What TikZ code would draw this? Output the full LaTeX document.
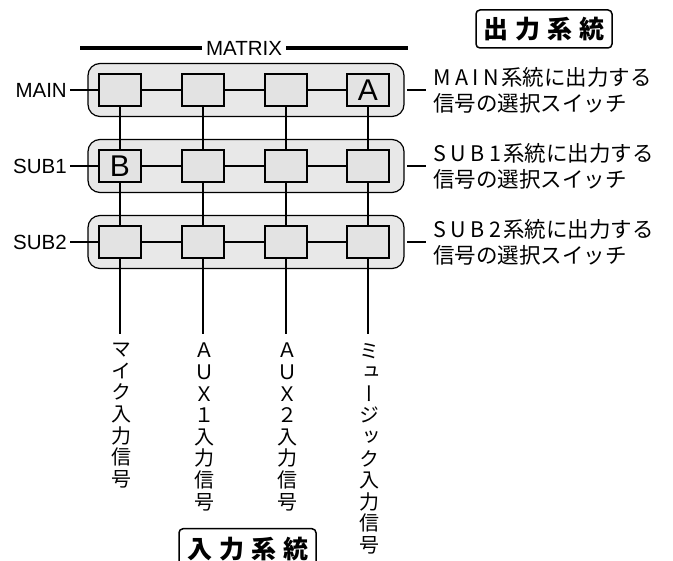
\documentclass[tikz,border=0pt]{standalone}
\usepackage{fontspec}
\setmainfont{Liberation Sans}
\newfontfamily\jp{Noto Sans CJK JP}
\newfontfamily\vjp[RawFeature=+vert]{Noto Sans CJK JP}
\newcommand\ls[1]{#1\kern4.5pt}
\begin{document}
\begin{tikzpicture}[x=1pt,y=-1pt,
  grp/.style={draw=black,line width=1.2pt,fill=gray!18,rounded corners=12pt},
  sw/.style={draw=black,line width=2.8pt,fill=gray!22,minimum width=42pt,minimum height=32pt,inner sep=0pt},
  letter/.style={font=\fontsize{30}{30}\selectfont,inner sep=0pt},
  wire/.style={line width=2pt},
  lbl/.style={font=\fontsize{20.5}{20.5}\selectfont,inner sep=0pt},
  rlbl/.style={font=\jp\fontsize{21.5}{26}\selectfont,align=left,anchor=west,inner sep=0pt},
  vlbl/.style={font=\vjp\fontsize{20}{21.6}\selectfont,align=center,anchor=north,inner sep=0pt},
  titlebox/.style={draw=black,line width=1.5pt,rounded corners=4pt,font=\jp\bfseries\fontsize{25}{25}\selectfont,inner sep=0pt}
]
\useasboundingbox (0,0) rectangle (673,561);
% MATRIX header
\node[lbl] (mx) at (244,48) {MATRIX};
\coordinate (mxl) at (80,48);
\coordinate (mxr) at (408,48);
\draw[line width=4.5pt] (mxl) -- ([xshift=-4pt]mx.west);
\draw[line width=4.5pt] ([xshift=4pt]mx.east) -- (mxr);
% rows
\foreach \r/\y in {1/90,2/166,3/242}{
  \node[grp,minimum width=316pt,minimum height=53pt] (g\r) at (246,\y) {};
}
% vertical wires
\foreach \c/\x in {1/120,2/203,3/286,4/368}{
  \coordinate (top\c) at (\x,90);
  \coordinate (bot\c) at (\x,334);
  \draw[wire] (top\c) -- (bot\c);
}
% labels on the left
\node[lbl,anchor=east] (l1) at (67,90) {MAIN};
\node[lbl,anchor=east] (l2) at (67,166) {SUB1};
\node[lbl,anchor=east] (l3) at (67,242) {SUB2};
% horizontal wires
\foreach \r/\y in {1/90,2/166,3/242}{
  \coordinate (e\r) at (368,\y);
  \draw[wire] ([xshift=3pt]l\r.east) -- (e\r);
  \coordinate (ra\r) at (407,\y);
  \coordinate (rb\r) at (426,\y);
  \draw[wire] (ra\r) -- (rb\r);
}
% switches
\foreach \r/\y in {1/90,2/166,3/242}{
  \foreach \c/\x in {1/120,2/203,3/286,4/368}{
    \node[sw] (s\r\c) at (\x,\y) {};
  }
}
\node[letter] (la) at (s14) {A};
\node[letter] (lb) at (s21) {B};
% right labels
\node[rlbl] (t1) at (433,90) {\ls M\ls A\ls I\kern0pt N\kern2pt 系統に出力する\\信号の選択スイッチ};
\node[rlbl] (t2) at (433,166) {\ls S\ls U\ls B\kern0pt 1\kern2pt 系統に出力する\\信号の選択スイッチ};
\node[rlbl] (t3) at (433,242) {\ls S\ls U\ls B\kern0pt 2\kern2pt 系統に出力する\\信号の選択スイッチ};
% title boxes
\node[titlebox,minimum width=136pt,minimum height=38pt] (out) at (544,29) {出\hspace{7pt}力\hspace{7pt}系\hspace{7pt}統};
\node[titlebox,minimum width=137pt,minimum height=40pt,anchor=north] (in) at (247.5,528) {入\hspace{7pt}力\hspace{7pt}系\hspace{7pt}統};
% vertical input labels
\node[vlbl] (v1) at (121,343) {マ\\イ\\ク\\入\\力\\信\\号};
\node[vlbl] (v2) at (204,343) {Ａ\\Ｕ\\Ｘ\\１\\入\\力\\信\\号};
\node[vlbl] (v3) at (287,343) {Ａ\\Ｕ\\Ｘ\\２\\入\\力\\信\\号};
\node[vlbl] (v4) at (369,343) {ミ\\ュ\\ー\\ジ\\ッ\\ク\\入\\力\\信\\号};
\end{tikzpicture}
\end{document}
